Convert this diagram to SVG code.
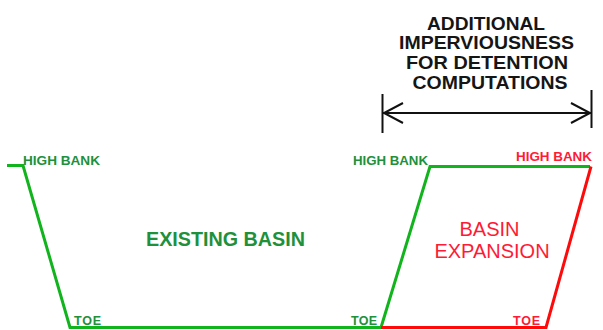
<svg xmlns="http://www.w3.org/2000/svg" width="603" height="330" viewBox="0 0 603 330">
<style>
.g{stroke:#12b41e;stroke-width:3;fill:none;stroke-linejoin:miter}
.r{stroke:#ff0a0a;stroke-width:3;fill:none}
.k{stroke:#111;stroke-width:2;fill:none}
.lbl{font-family:"Liberation Sans",Arial,sans-serif;font-weight:bold;font-size:12.5px}
.gt{fill:#21903a}
.rt{fill:#ff1a35}
.title{font-family:"Liberation Sans",Arial,sans-serif;font-weight:bold;font-size:17.5px;fill:#151515;text-anchor:middle}
.big{font-family:"Liberation Sans",Arial,sans-serif;font-size:20px;text-anchor:middle}
</style>
<rect width="603" height="330" fill="#fff"/>
<g id="connectors">
<polyline class="g" points="7,165.5 23,165.5 70,327.5 381,327.5 430,166.5 590,166.5"/>
<polyline class="r" points="381,327.5 546,327.5 591,166.5"/>
</g>
<g id="dimension">
<line class="k" x1="382.5" y1="94" x2="382.5" y2="133"/>
<line class="k" x1="591.5" y1="90" x2="591.5" y2="128"/>
<line class="k" x1="383" y1="113" x2="591" y2="113"/>
<polyline class="k" points="403,103 384,113 403,123"/>
<polyline class="k" points="571,103 590,113 571,123"/>
</g>
<g id="title">
<text class="title" x="486" y="30" textLength="118" lengthAdjust="spacingAndGlyphs">ADDITIONAL</text>
<text class="title" x="486.5" y="49" textLength="175" lengthAdjust="spacingAndGlyphs">IMPERVIOUSNESS</text>
<text class="title" x="487" y="68.5" textLength="162" lengthAdjust="spacingAndGlyphs">FOR DETENTION</text>
<text class="title" x="490" y="89" textLength="155" lengthAdjust="spacingAndGlyphs">COMPUTATIONS</text>
</g>
<g id="existing-basin">
<text class="big gt" x="225.5" y="246" font-weight="bold" textLength="159" lengthAdjust="spacingAndGlyphs">EXISTING BASIN</text>
</g>
<g id="basin-expansion">
<text class="big rt" x="489.5" y="236">BASIN</text>
<text class="big rt" x="492" y="258">EXPANSION</text>
</g>
<g id="labels">
<text class="lbl gt" x="23" y="165" textLength="77" lengthAdjust="spacingAndGlyphs">HIGH BANK</text>
<text class="lbl gt" x="353" y="165" textLength="75" lengthAdjust="spacingAndGlyphs">HIGH BANK</text>
<text class="lbl rt" x="516" y="161" textLength="76" lengthAdjust="spacingAndGlyphs">HIGH BANK</text>
<text class="lbl gt" x="74" y="325" textLength="27">TOE</text>
<text class="lbl gt" x="351" y="325" textLength="26">TOE</text>
<text class="lbl rt" x="513" y="325" textLength="27">TOE</text>
</g>
</svg>
